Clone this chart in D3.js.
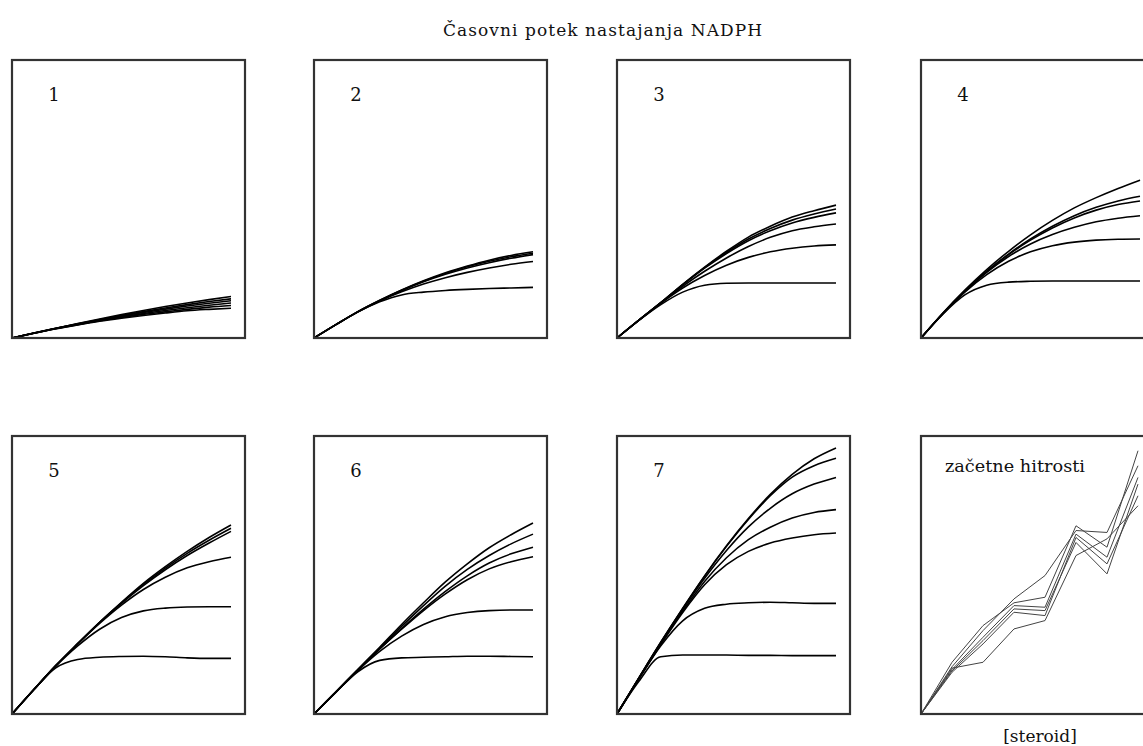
<!DOCTYPE html>
<html>
<head>
<meta charset="utf-8">
<script src="https://cdn.jsdelivr.net/npm/d3@7"></script>
<style>
  body { margin: 0; background: #fff; }
  text { font-family: "DejaVu Serif", "Liberation Serif", serif; fill: #111; }
</style>
</head>
<body>
<div id="chart"></div>
<script>
const width = 1143;
const height = 746;

// time points (same for every kinetic panel)
const times = [0, 1, 2, 3, 4, 5, 6, 7, 8, 9, 10];

// NADPH formed (fraction of panel height), one array per curve
const panel1 = [
  [0, 0.018, 0.035, 0.052, 0.068, 0.084, 0.099, 0.113, 0.126, 0.138, 0.149],
  [0, 0.018, 0.035, 0.051, 0.066, 0.081, 0.095, 0.108, 0.120, 0.131, 0.141],
  [0, 0.018, 0.034, 0.050, 0.065, 0.079, 0.092, 0.104, 0.115, 0.125, 0.134],
  [0, 0.017, 0.034, 0.049, 0.063, 0.076, 0.088, 0.099, 0.109, 0.118, 0.126],
  [0, 0.017, 0.033, 0.048, 0.062, 0.074, 0.085, 0.094, 0.103, 0.111, 0.117],
  [0, 0.017, 0.033, 0.047, 0.060, 0.071, 0.081, 0.090, 0.098, 0.103, 0.107]
];
const panel2 = [
  [0, 0.048, 0.095, 0.136, 0.173, 0.206, 0.235, 0.259, 0.280, 0.297, 0.310],
  [0, 0.048, 0.095, 0.135, 0.172, 0.204, 0.232, 0.256, 0.276, 0.292, 0.305],
  [0, 0.048, 0.094, 0.134, 0.170, 0.202, 0.229, 0.252, 0.271, 0.287, 0.300],
  [0, 0.048, 0.094, 0.133, 0.166, 0.194, 0.217, 0.236, 0.252, 0.265, 0.275],
  [0, 0.048, 0.093, 0.130, 0.155, 0.165, 0.171, 0.175, 0.178, 0.180, 0.182]
];
const panel3 = [
  [0, 0.064, 0.127, 0.193, 0.255, 0.312, 0.363, 0.402, 0.435, 0.458, 0.478],
  [0, 0.064, 0.127, 0.192, 0.253, 0.308, 0.356, 0.394, 0.424, 0.446, 0.464],
  [0, 0.064, 0.127, 0.191, 0.251, 0.304, 0.350, 0.386, 0.414, 0.434, 0.450],
  [0, 0.064, 0.126, 0.186, 0.240, 0.288, 0.329, 0.362, 0.386, 0.400, 0.410],
  [0, 0.064, 0.125, 0.180, 0.225, 0.262, 0.290, 0.310, 0.323, 0.331, 0.335],
  [0, 0.063, 0.120, 0.165, 0.190, 0.197, 0.198, 0.198, 0.198, 0.198, 0.198]
];
const panel4 = [
  [0, 0.090, 0.172, 0.246, 0.312, 0.371, 0.423, 0.468, 0.505, 0.538, 0.568],
  [0, 0.088, 0.168, 0.240, 0.302, 0.356, 0.402, 0.440, 0.470, 0.493, 0.510],
  [0, 0.088, 0.168, 0.239, 0.300, 0.352, 0.396, 0.432, 0.460, 0.480, 0.493],
  [0, 0.088, 0.167, 0.236, 0.293, 0.338, 0.372, 0.398, 0.418, 0.431, 0.440],
  [0, 0.088, 0.165, 0.228, 0.276, 0.310, 0.332, 0.345, 0.352, 0.355, 0.356],
  [0, 0.086, 0.155, 0.190, 0.201, 0.204, 0.205, 0.205, 0.205, 0.205, 0.205]
];
const panel5 = [
  [0, 0.088, 0.174, 0.253, 0.330, 0.402, 0.470, 0.530, 0.585, 0.635, 0.680],
  [0, 0.088, 0.174, 0.253, 0.330, 0.400, 0.466, 0.525, 0.578, 0.625, 0.668],
  [0, 0.088, 0.174, 0.253, 0.329, 0.398, 0.462, 0.519, 0.570, 0.615, 0.657],
  [0, 0.088, 0.174, 0.252, 0.326, 0.392, 0.448, 0.492, 0.526, 0.548, 0.564],
  [0, 0.088, 0.172, 0.245, 0.305, 0.347, 0.371, 0.381, 0.385, 0.386, 0.386],
  [0, 0.088, 0.166, 0.196, 0.204, 0.207, 0.208, 0.206, 0.202, 0.200, 0.200]
];
const panel6 = [
  [0, 0.080, 0.160, 0.240, 0.322, 0.400, 0.475, 0.540, 0.598, 0.645, 0.687],
  [0, 0.080, 0.160, 0.238, 0.315, 0.390, 0.460, 0.520, 0.570, 0.612, 0.647],
  [0, 0.079, 0.158, 0.234, 0.307, 0.377, 0.441, 0.497, 0.543, 0.576, 0.600],
  [0, 0.079, 0.158, 0.234, 0.305, 0.372, 0.432, 0.483, 0.522, 0.548, 0.566],
  [0, 0.079, 0.156, 0.225, 0.280, 0.322, 0.350, 0.365, 0.372, 0.374, 0.374],
  [0, 0.078, 0.152, 0.193, 0.202, 0.204, 0.206, 0.208, 0.208, 0.207, 0.206]
];
const panel7 = [
  [0, 0.130, 0.258, 0.380, 0.497, 0.605, 0.703, 0.790, 0.862, 0.918, 0.957],
  [0, 0.130, 0.258, 0.380, 0.496, 0.603, 0.700, 0.785, 0.852, 0.893, 0.920],
  [0, 0.130, 0.256, 0.376, 0.488, 0.588, 0.673, 0.740, 0.792, 0.827, 0.851],
  [0, 0.128, 0.252, 0.370, 0.477, 0.562, 0.627, 0.672, 0.705, 0.725, 0.735],
  [0, 0.128, 0.250, 0.365, 0.465, 0.537, 0.585, 0.615, 0.633, 0.645, 0.651],
  [0, 0.126, 0.245, 0.335, 0.380, 0.395, 0.400, 0.402, 0.400, 0.398, 0.398],
  [0, 0.118, 0.206, 0.212, 0.212, 0.212, 0.211, 0.211, 0.210, 0.210, 0.210]
];
const kinetics = [panel1, panel2, panel3, panel4, panel5, panel6, panel7];
const panelLabels = ["1", "2", "3", "4", "5", "6", "7"];

// initial rates vs steroid concentration (last panel)
const concSteps = [0, 1, 2, 3, 4, 5, 6, 7];
const rates = [
  [0, 0.186, 0.318, 0.400, 0.420, 0.677, 0.600, 0.947],
  [0, 0.170, 0.300, 0.414, 0.498, 0.660, 0.653, 0.893],
  [0, 0.160, 0.276, 0.390, 0.384, 0.647, 0.564, 0.851],
  [0, 0.155, 0.264, 0.378, 0.372, 0.617, 0.504, 0.827],
  [0, 0.150, 0.252, 0.366, 0.354, 0.635, 0.540, 0.785],
  [0, 0.165, 0.186, 0.306, 0.336, 0.570, 0.630, 0.749]
];

const title = "Časovni potek nastajanja NADPH";
const ratesLabel = "začetne hitrosti";
const ratesXLabel = "[steroid]";

// layout
const colLeft = [12, 314, 617, 921];
const rowTop = [60, 436];
const pw = 233;
const ph = 278;

var svg = d3.select("#chart").append("svg")
  .attr("width", width)
  .attr("height", height);

svg.append("text")
  .attr("x", 443)
  .attr("y", 36)
  .attr("textLength", 319)
  .attr("lengthAdjust", "spacing")
  .style("font-size", "17px")
  .text(title);

var x = d3.scaleLinear().domain([0, 10]).range([0, 219]);
var y = d3.scaleLinear().domain([0, 1]).range([ph, 0]);
var xr = d3.scaleLinear().domain([0, 7]).range([0, 217]);

var line = d3.line()
  .x((d, i) => x(times[i]))
  .y((d) => y(d))
  .curve(d3.curveMonotoneX);

var rateLine = d3.line()
  .x((d, i) => xr(concSteps[i]))
  .y((d) => y(d));

function panelOrigin(k) {
  return [colLeft[k % 4], rowTop[Math.floor(k / 4)]];
}

kinetics.forEach((curves, k) => {
  var o = panelOrigin(k);
  var g = svg.append("g").attr("transform", "translate(" + o[0] + "," + o[1] + ")");

  g.selectAll("path.curve").data(curves).enter()
    .append("path")
    .attr("class", "curve")
    .attr("d", line)
    .attr("fill", "none")
    .attr("stroke", "#000")
    .attr("stroke-width", 1.6);

  g.append("rect")
    .attr("width", pw)
    .attr("height", ph)
    .attr("fill", "none")
    .attr("stroke", "#333")
    .attr("stroke-width", 2.2);

  g.append("text")
    .attr("x", 42)
    .attr("y", 41)
    .attr("text-anchor", "middle")
    .style("font-size", "18px")
    .text(panelLabels[k]);
});

// rates panel
var o8 = panelOrigin(7);
var g8 = svg.append("g").attr("transform", "translate(" + o8[0] + "," + o8[1] + ")");

g8.selectAll("path.rate").data(rates).enter()
  .append("path")
  .attr("class", "rate")
  .attr("d", rateLine)
  .attr("fill", "none")
  .attr("stroke", "#444")
  .attr("stroke-width", 1);

g8.append("rect")
  .attr("width", pw)
  .attr("height", ph)
  .attr("fill", "none")
  .attr("stroke", "#333")
  .attr("stroke-width", 2.2);

g8.append("text")
  .attr("x", 24)
  .attr("y", 36)
  .attr("textLength", 140)
  .attr("lengthAdjust", "spacingAndGlyphs")
  .style("font-size", "17px")
  .text(ratesLabel);

g8.append("text")
  .attr("x", 119)
  .attr("y", 306)
  .attr("text-anchor", "middle")
  .style("font-size", "17px")
  .text(ratesXLabel);
</script>
</body>
</html>
